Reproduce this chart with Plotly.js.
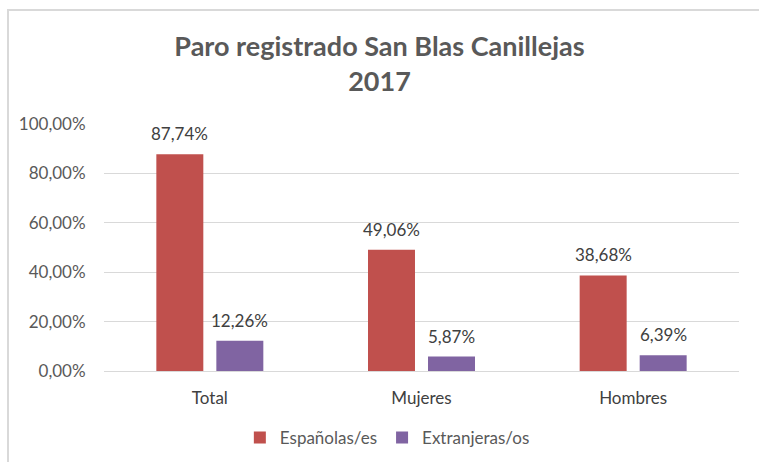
<!DOCTYPE html>
<html>
<head>
<meta charset="utf-8">
<script src="https://cdn.plot.ly/plotly-3.0.1.min.js"></script>
<style>
html,body{margin:0;padding:0;background:#fff;}
#wrap{position:relative;width:759px;height:462px;overflow:hidden;}
#chart{width:759px;height:462px;}
#frame{position:absolute;left:7px;top:9px;width:760px;height:470px;border:2px solid #d9d9d9;box-sizing:border-box;pointer-events:none;}
</style>
</head>
<body>
<div id="wrap"><div id="chart"></div><div id="frame"></div></div>
<script>
var categories = ['Total', 'Mujeres', 'Hombres'];
var espanolas = [87.74, 49.06, 38.68];
var extranjeras = [12.26, 5.87, 6.39];
var seriesNames = ['Españolas/es', 'Extranjeras/os'];
var tickVals = [0, 20, 40, 60, 80, 100];
var tickText = ['0,00%', '20,00%', '40,00%', '60,00%', '80,00%', '100,00%'];

function fmt(v){ return v.toFixed(2).replace('.', ',') + '%'; }

var FONT = 'Lato, "Open Sans", sans-serif';
var traces = [
  {type:'bar', name:seriesNames[0], x:categories, y:espanolas, marker:{color:'#C0504D'}, hoverinfo:'none'},
  {type:'bar', name:seriesNames[1], x:categories, y:extranjeras, marker:{color:'#8064A2'}, hoverinfo:'none'}
];

var annotations = [];
categories.forEach(function(c, i){
  annotations.push({x:c, y:espanolas[i], xref:'x', yref:'y', text:fmt(espanolas[i]), showarrow:false,
    xshift:-30, yanchor:'bottom', yshift:8, font:{family:FONT, size:17, color:'#404040'}});
  annotations.push({x:c, y:extranjeras[i], xref:'x', yref:'y', text:fmt(extranjeras[i]), showarrow:false,
    xshift:30, yanchor:'bottom', yshift:8, font:{family:FONT, size:17, color:'#404040'}});
});

var layout = {
  width:759, height:462,
  margin:{l:104, r:20, t:124, b:91},
  paper_bgcolor:'#fff', plot_bgcolor:'#fff',
  title:{text:'<b>Paro registrado San Blas Canillejas<br>2017</b>', x:0.5, xref:'container', y:0.878, yref:'container', yanchor:'middle',
    font:{family:FONT, size:27, color:'#595959'}},
  barmode:'group', bargap:0.433, bargroupgap:0.217,
  font:{family:FONT, size:17, color:'#595959'},
  xaxis:{showgrid:false, zeroline:false, showline:false, ticks:'outside', ticklen:12, tickcolor:'rgba(0,0,0,0)',
    tickfont:{family:FONT, size:17, color:'#404040'}, automargin:false},
  yaxis:{range:[0,100], tickvals:tickVals, ticktext:tickText, showgrid:true, gridcolor:'#d9d9d9', gridwidth:1,
    zeroline:true, zerolinecolor:'#d9d9d9', showline:false, ticks:'outside', ticklen:14, tickcolor:'rgba(0,0,0,0)',
    tickfont:{family:FONT, size:17, color:'#595959'}, fixedrange:true, automargin:false},
  showlegend:true,
  legend:{orientation:'h', x:0.316, xref:'container', xanchor:'left', y:0.052, yref:'container', yanchor:'middle', itemwidth:30,
    font:{family:FONT, size:17, color:'#595959'}, traceorder:'normal'},
  annotations:annotations
};

Plotly.newPlot('chart', traces, layout, {displayModeBar:false, staticPlot:true});
</script>
</body>
</html>
